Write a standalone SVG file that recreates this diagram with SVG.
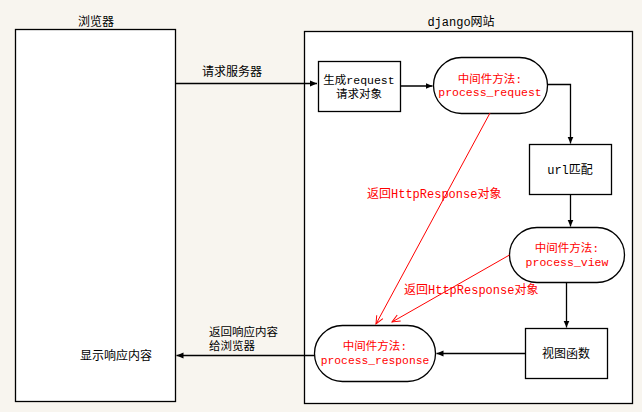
<svg xmlns="http://www.w3.org/2000/svg" width="642" height="412" viewBox="0 0 642 412">
<style>
.bg{fill:#f8f5ef}
.box{fill:#fff;stroke:#000;stroke-width:1.3}
.t{font-family:"Liberation Mono","Noto Sans CJK SC",monospace;font-size:12px;fill:#000}
.s{font-size:11.5px}
.r{fill:#ff0000}
.c{text-anchor:middle}
.ln{fill:none;stroke:#000;stroke-width:1.3}
.rl{fill:none;stroke:#ff0000;stroke-width:1}
</style>
<defs>
<marker id="ab" viewBox="0 0 8 8" refX="7" refY="4" markerWidth="8" markerHeight="8" markerUnits="userSpaceOnUse" orient="auto">
<path d="M0,1 L7,4 L0,7 Z" fill="#000"/>
</marker>
<marker id="ar" viewBox="0 0 10 10" refX="9" refY="5" markerWidth="10" markerHeight="10" markerUnits="userSpaceOnUse" orient="auto">
<path d="M1,1.5 L9,5 L1,8.5" fill="none" stroke="#ff0000" stroke-width="1"/>
</marker>
</defs>
<rect class="bg" x="0" y="0" width="642" height="412"/>

<g id="browser">
<rect class="box" x="15.5" y="29.5" width="160" height="372"/>
<text class="t c" x="96" y="26">浏览器</text>
<text class="t c" x="116" y="360">显示响应内容</text>
</g>

<g id="django">
<rect class="box" x="304.5" y="31.5" width="328" height="372"/>
<text class="t c" x="461" y="26">django网站</text>
</g>

<g id="gen-request">
<rect class="box" x="318.5" y="61.5" width="82" height="50"/>
<text class="t c s" x="359" y="84">生成request</text>
<text class="t c s" x="359" y="97.5">请求对象</text>
</g>

<g id="process-request">
<rect class="box" x="433.5" y="57.5" width="114" height="56" rx="28" ry="28"/>
<text class="t c r s" x="490" y="83">中间件方法:</text>
<text class="t c r s" x="490" y="96">process_request</text>
</g>

<g id="url-match">
<rect class="box" x="529.5" y="144.5" width="82" height="50"/>
<text class="t c" x="570" y="174">url匹配</text>
</g>

<g id="process-view">
<rect class="box" x="509.5" y="227.5" width="115" height="55" rx="27.5" ry="27.5"/>
<text class="t c r s" x="567" y="252">中间件方法:</text>
<text class="t c r s" x="567" y="265.5">process_view</text>
</g>

<g id="view-func">
<rect class="box" x="525.5" y="328.5" width="82" height="50"/>
<text class="t c" x="566" y="358">视图函数</text>
</g>

<g id="process-response">
<rect class="box" x="314.5" y="325.5" width="121" height="56" rx="28" ry="28"/>
<text class="t c r s" x="375" y="350">中间件方法:</text>
<text class="t c r s" x="375" y="363.5" style="font-size:11.3px">process_response</text>
</g>

<g id="connectors">
<path class="ln" d="M175.5,83.5 H317" marker-end="url(#ab)"/>
<text class="t" x="202" y="76">请求服务器</text>
<path class="ln" d="M400.5,86 H432.5" marker-end="url(#ab)"/>
<path class="ln" d="M547.5,84.5 H570.5 V143.5" marker-end="url(#ab)"/>
<path class="ln" d="M570.5,194.5 V226.5" marker-end="url(#ab)"/>
<path class="ln" d="M566.5,282.5 V327.5" marker-end="url(#ab)"/>
<path class="ln" d="M525.5,353.5 H436.5" marker-end="url(#ab)"/>
<path class="ln" d="M314.5,355.5 H176.5" marker-end="url(#ab)"/>
<text class="t s" x="209" y="336">返回响应内容</text>
<text class="t s" x="209" y="349.5">给浏览器</text>
<path class="rl" d="M490,113 L376,324" marker-end="url(#ar)"/>
<path class="rl" d="M509.5,255 L392,322" marker-end="url(#ar)"/>
<text class="t r" x="367" y="198">返回HttpResponse对象</text>
<text class="t r" x="404" y="294">返回HttpResponse对象</text>
</g>
</svg>
